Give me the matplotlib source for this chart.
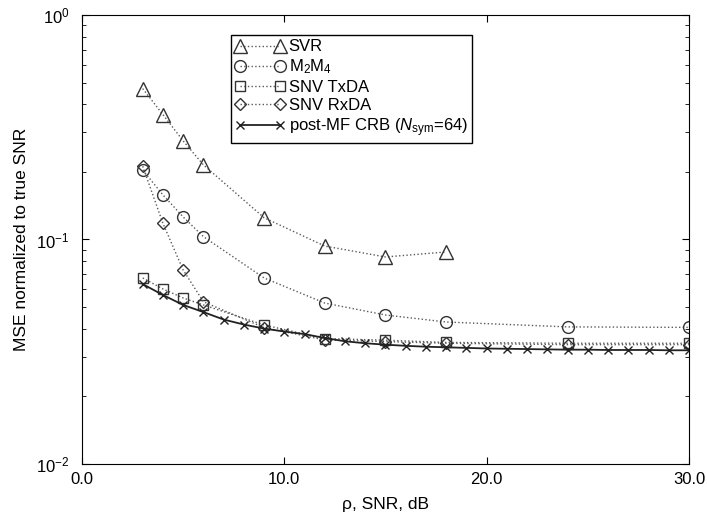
import matplotlib
matplotlib.use("Agg")
import matplotlib.pyplot as plt
from matplotlib.ticker import FixedLocator, FormatStrFormatter, LogLocator, NullFormatter

plt.rcParams["font.family"] = ["Liberation Sans", "DejaVu Sans"]
plt.rcParams["mathtext.fontset"] = "custom"
plt.rcParams["mathtext.rm"] = "Liberation Sans"
plt.rcParams["mathtext.it"] = "Liberation Sans:italic"

# Data (SNR in dB, normalized MSE)
svr_snr = [3, 4, 5, 6, 9, 12, 15, 18]
svr_mse = [0.47, 0.36, 0.275, 0.215, 0.125, 0.0935, 0.0836, 0.088]

m2m4_snr = [3, 4, 5, 6, 9, 12, 15, 18, 24, 30]
m2m4_mse = [0.204, 0.158, 0.126, 0.103, 0.0674, 0.0521, 0.0461, 0.0429, 0.0408, 0.0406]

txda_snr = [3, 4, 5, 6, 9, 12, 15, 18, 24, 30]
txda_mse = [0.0674, 0.0602, 0.0549, 0.0511, 0.0416, 0.0362, 0.0356, 0.0348, 0.0345, 0.0345]

rxda_snr = [3, 4, 5, 6, 9, 12, 15, 18, 24, 30]
rxda_mse = [0.212, 0.118, 0.0731, 0.0528, 0.0405, 0.0357, 0.0351, 0.0345, 0.034, 0.034]

crb_snr = list(range(3, 31))
crb_mse = [0.0633, 0.0566, 0.0511, 0.0475, 0.0440, 0.0418, 0.0401, 0.0389, 0.0379,
           0.0364, 0.0352, 0.0345, 0.0340, 0.0336, 0.0333, 0.0331, 0.0329, 0.0327,
           0.0326, 0.0325, 0.0324, 0.0323, 0.0323, 0.0322, 0.0322, 0.0322, 0.0321,
           0.0321]

fig = plt.figure(figsize=(7.07, 5.14), dpi=100)
ax = fig.add_axes([0.116, 0.0973, 0.8585, 0.8735])

mk = dict(markerfacecolor="none", markeredgecolor="#333333", color="#5a5a5a",
          markeredgewidth=1.0)
ax.semilogy(svr_snr, svr_mse, ls=":", marker="^", lw=1.0, markersize=9.5,
            label="SVR", **mk)
ax.semilogy(m2m4_snr, m2m4_mse, ls=":", marker="o", lw=1.0, markersize=8.5,
            label="M$_2$M$_4$", **mk)
ax.semilogy(txda_snr, txda_mse, ls=":", marker="s", lw=1.0, markersize=7,
            label="SNV TxDA", **mk)
ax.semilogy(rxda_snr, rxda_mse, ls=":", marker="D", lw=1.0, markersize=6.5,
            label="SNV RxDA", **mk)
ax.semilogy(crb_snr, crb_mse, ls="-", marker="x", lw=1.3, color="#222222",
            markersize=6, label="post-MF CRB ($N_{\\mathrm{sym}}$=64)")

ax.set_xlim(0, 30)
ax.set_ylim(1e-2, 1)
ax.xaxis.set_major_locator(FixedLocator([0, 10, 20, 30]))
ax.xaxis.set_major_formatter(FormatStrFormatter("%.1f"))
ax.yaxis.set_major_locator(LogLocator(base=10))
ax.yaxis.set_minor_locator(LogLocator(base=10, subs=range(2, 10)))
ax.yaxis.set_minor_formatter(NullFormatter())
ax.tick_params(which="both", direction="in", top=True, right=True, labelsize=12)
ax.tick_params(which="major", length=5)
ax.tick_params(which="minor", length=3)
ax.tick_params(axis="x", pad=6)
ax.tick_params(axis="y", pad=9)

ax.set_xlabel("ρ, SNR, dB", fontsize=12.5, labelpad=7)
ax.set_ylabel("MSE normalized to true SNR", fontsize=12.5, labelpad=5)

leg = ax.legend(loc="upper left", bbox_to_anchor=(0.2455, 0.955), numpoints=2,
                fontsize=12, handlelength=3.0, handletextpad=0.2,
                borderpad=0.25, labelspacing=0.2, borderaxespad=0,
                fancybox=False, edgecolor="black", framealpha=1)
leg.get_frame().set_linewidth(1.0)

fig.savefig("out.png", dpi=100)
